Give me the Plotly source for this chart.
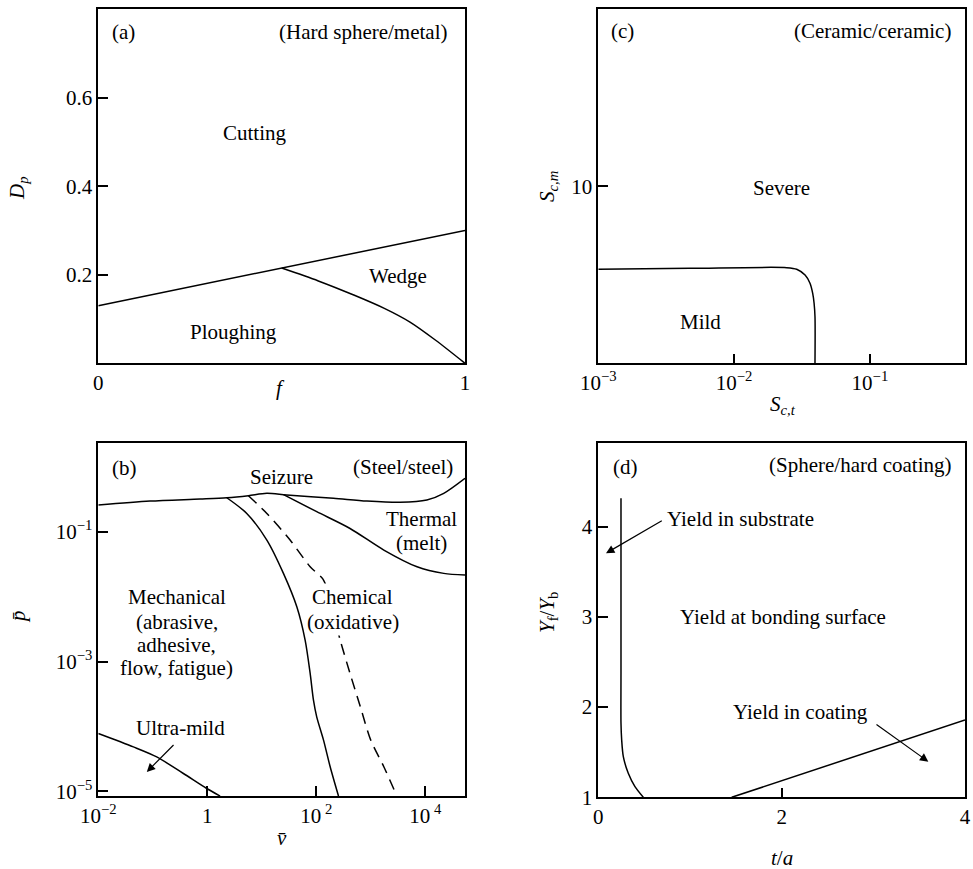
import numpy as np
import plotly.graph_objects as go

W, H = 973, 869
FONT = "Liberation Serif, Times New Roman, serif"
FS = 21

# ---------------- data ----------------
# (a) Hard sphere / metal
a_cut_f = [0.0, 1.0]
a_cut_dp = [0.13, 0.30]
a_wedge_f = [0.50, 0.60, 0.70, 0.78, 0.85, 0.92, 1.00]
a_wedge_dp = [0.215, 0.186, 0.153, 0.124, 0.093, 0.052, 0.0]

# (b) Steel / steel  (v-bar, p-bar)
b_seiz_v = [0.01, 0.089, 0.74, 2.28, 5.69, 12.4, 28.8, 207, 851, 3467, 10715, 21878, 53703]
b_seiz_p = [0.257, 0.296, 0.318, 0.333, 0.358, 0.389, 0.366, 0.326, 0.296, 0.283, 0.307, 0.389, 0.662]
b_mech_v = [2.28, 5.31, 12.4, 25.0, 44.0, 62.5, 77.3, 88.9, 102, 136, 180, 256]
b_mech_p = [0.333, 0.191, 0.0743, 0.0228, 0.00697, 0.00214, 6.56e-4, 2.55e-4, 1.41e-4, 6.17e-5, 2.40e-5, 8.5e-6]
b_chem_v = [5.69, 12.4, 33.1, 77.3, 136, 207, 275, 417, 646, 1000, 1738, 3020]
b_chem_p = [0.358, 0.191, 0.0743, 0.0288, 0.0180, 0.00551, 0.00214, 6.56e-4, 2.0e-4, 6.17e-5, 2.40e-5, 8.5e-6]
b_therm_v = [25.1, 102, 417, 1738, 7079, 21878, 53703]
b_therm_p = [0.372, 0.203, 0.112, 0.0521, 0.0288, 0.0228, 0.0215]
b_ultra_v = [0.01, 0.044, 0.118, 0.364, 0.977, 1.72]
b_ultra_p = [7.80e-5, 4.85e-5, 3.40e-5, 1.89e-5, 1.11e-5, 8.5e-6]

# (c) Ceramic / ceramic
c_sct = [0.001, 0.00473, 0.0244, 0.0289, 0.0333, 0.0362, 0.0379, 0.0388, 0.0394, 0.0394]
c_scm = [5.31, 5.36, 5.40, 5.31, 4.98, 4.52, 3.95, 3.39, 2.63, 0.0]

# (d) Sphere / hard coating
d_sub_t = [0.2475, 0.2475, 0.2475, 0.255, 0.273, 0.327, 0.40, 0.491]
d_sub_y = [4.315, 2.375, 1.82, 1.635, 1.45, 1.266, 1.118, 1.0]
d_coat_t = [1.455, 4.0]
d_coat_y = [1.0, 1.857]

# tick labels
a_x_ticks, a_x_text = [0, 1], ["0", "1"]
a_y_ticks, a_y_text = [0.2, 0.4, 0.6], ["0.2", "0.4", "0.6"]
b_x_ticks = [0.01, 1, 100, 10000]
b_x_text = ["10<sup>−2</sup>", "1", "10<sup> 2</sup>", "10<sup> 4</sup>"]
b_y_ticks = [1e-1, 1e-3, 1e-5]
b_y_text = ["10<sup>−1</sup>", "10<sup>−3</sup>", "10<sup>−5</sup>"]
c_x_ticks = [0.001, 0.01, 0.1]
c_x_text = ["10<sup>−3</sup>", "10<sup>−2</sup>", "10<sup>−1</sup>"]
c_y_ticks, c_y_text = [10], ["10"]
d_x_ticks, d_x_text = [0, 2, 4], ["0", "2", "4"]
d_y_ticks, d_y_text = [1, 2, 3, 4], ["1", "2", "3", "4"]

# ---------------- figure ----------------
fig = go.Figure()

def line(x, y, xa, ya, dash="solid", spline=False):
    fig.add_trace(go.Scatter(
        x=x, y=y, mode="lines", xaxis=xa, yaxis=ya, showlegend=False, hoverinfo="skip",
        line=dict(color="black", width=1.5, dash=dash,
                  shape="spline" if spline else "linear", smoothing=0.8 if spline else None)))

line(a_cut_f, a_cut_dp, "x", "y")
line(a_wedge_f, a_wedge_dp, "x", "y", spline=True)

line(c_sct, c_scm, "x2", "y2", spline=True)

line(b_seiz_v, b_seiz_p, "x3", "y3", spline=True)
line(b_mech_v, b_mech_p, "x3", "y3", spline=True)
line(b_chem_v, b_chem_p, "x3", "y3", dash="11px,7px", spline=True)
line(b_therm_v, b_therm_p, "x3", "y3", spline=True)
line(b_ultra_v, b_ultra_p, "x3", "y3", spline=True)

line(d_sub_t, d_sub_y, "x4", "y4", spline=True)
line(d_coat_t, d_coat_y, "x4", "y4")


def ax(**kw):
    d = dict(showline=True, linecolor="black", linewidth=1.5, mirror=True,
             ticks="inside", ticklen=10, tickwidth=1.5, tickcolor="black",
             showgrid=False, zeroline=False, automargin=False, fixedrange=True,
             tickfont=dict(family=FONT, size=FS, color="black"))
    d.update(kw)
    return d

def dom(p0, p1, total):
    return [p0 / total, p1 / total]

xa_left = dom(98.3, 465, W)
xa_right = dom(598.3, 965, W)
ya_top = [1 - 363.3 / H, 1 - 9 / H]
ya_bot_b = [1 - 796 / H, 1 - 442.7 / H]
ya_bot_d = [1 - 797.3 / H, 1 - 442.7 / H]

fig.update_layout(
    width=W, height=H, margin=dict(l=0, r=0, t=0, b=0),
    paper_bgcolor="white", plot_bgcolor="white", hovermode=False,
    font=dict(family=FONT, size=FS, color="black"),
    xaxis=ax(domain=xa_left, range=[0, 1], tickvals=a_x_ticks, ticktext=a_x_text, anchor="y"),
    yaxis=ax(domain=ya_top, range=[0, 0.8], tickvals=a_y_ticks, ticktext=a_y_text, anchor="x"),
    xaxis2=ax(domain=xa_right, type="log", range=[-3, -0.30], tickvals=c_x_ticks, ticktext=c_x_text, anchor="y2"),
    yaxis2=ax(domain=ya_top, range=[0, 20], tickvals=c_y_ticks, ticktext=c_y_text, anchor="x2"),
    xaxis3=ax(domain=xa_left, type="log", range=[-2, 4.73], tickvals=b_x_ticks, ticktext=b_x_text, anchor="y3"),
    yaxis3=ax(domain=ya_bot_b, type="log", range=[-5.07, 0.37], tickvals=b_y_ticks, ticktext=b_y_text, anchor="x3"),
    xaxis4=ax(domain=xa_right, range=[0, 4], tickvals=d_x_ticks, ticktext=d_x_text, anchor="y4"),
    yaxis4=ax(domain=ya_bot_d, range=[1, 4.93], tickvals=d_y_ticks, ticktext=d_y_text, anchor="x4"),
)

ann = []

def label(text, px, py, **kw):
    d = dict(text=text, x=px / W, y=1 - py / H, xref="paper", yref="paper", showarrow=False,
             xanchor="center", yanchor="middle", font=dict(family=FONT, size=FS, color="black"))
    d.update(kw)
    ann.append(d)

def arrow(xr, yr, x, y, tx, ty):
    ann.append(dict(x=x, y=y, ax=tx, ay=ty, xref=xr, yref=yr, axref=xr, ayref=yr, text="",
                    showarrow=True, arrowhead=2, arrowsize=1.4, arrowwidth=1.2, arrowcolor="black",
                    standoff=0, startstandoff=0))

# axis titles
label("<i>D<sub>p</sub></i>", 18, 188, textangle=-90)
label("<i>f</i>", 280, 388)
label("<i>S<sub>c,m</sub></i>", 548, 187, textangle=-90)
label("<i>S<sub>c,t</sub></i>", 783, 405)
label("<i>p̄</i>", 18, 617, textangle=-90)
label("<i>v̄</i>", 282, 838)
label("<i>Y</i><sub>f</sub>/<i>Y</i><sub>b</sub>", 548, 613, textangle=-90)
label("<i>t</i>/<i>a</i>", 782, 858)

# (a)
label("(a)", 123, 32)
label("(Hard sphere/metal)", 363, 32)
label("Cutting", 255, 133)
label("Wedge", 398, 276)
label("Ploughing", 233, 332)
# (c)
label("(c)", 622.7, 30.7)
label("(Ceramic/ceramic)", 872.7, 30.7)
label("Severe", 781.7, 187.7)
label("Mild", 700, 321.7)
# (b)
label("(b)", 124, 468)
label("Seizure", 281.7, 476.7)
label("(Steel/steel)", 403, 466.7)
label("Thermal", 421.7, 519)
label("(melt)", 421.7, 543)
label("Mechanical", 176.7, 596.7)
label("(abrasive,", 176.7, 621.7)
label("adhesive,", 176.7, 645)
label("flow, fatigue)", 176.7, 668)
label("Chemical", 352.7, 596.7, bgcolor="white")
label("(oxidative)", 352.7, 621.7, bgcolor="white")
label("Ultra-mild", 180, 728.3)
# (d)
label("(d)", 625, 466.7)
label("(Sphere/hard coating)", 860, 465)
label("Yield in substrate", 740, 519)
label("Yield at bonding surface", 783.3, 616.7)
label("Yield in coating", 800, 711.7)

# arrows
arrow("x3", "y3", np.log10(0.0776), np.log10(2.0e-5), np.log10(0.256), np.log10(5.47e-5))
arrow("x4", "y4", 0.084, 3.705, 0.709, 4.074)
arrow("x4", "y4", 3.60, 1.395, 3.018, 1.82)

fig.update_layout(annotations=ann)

fig.write_html("out.html", config=dict(displayModeBar=False),
               post_script="document.body.style.margin='0';document.body.style.overflow='hidden';")
